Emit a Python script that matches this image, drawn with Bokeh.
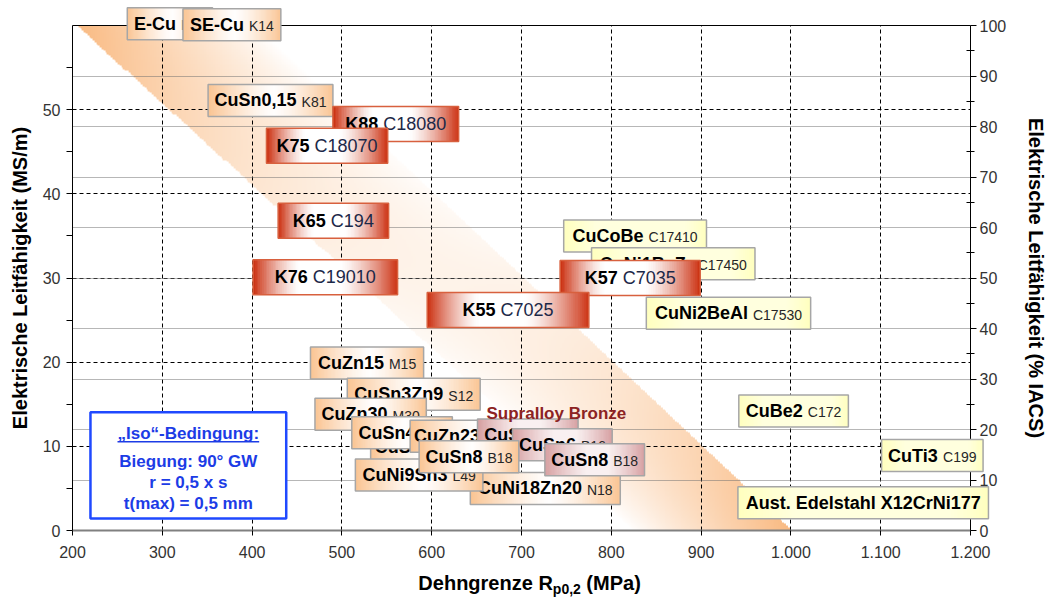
import numpy as np
from bokeh.plotting import figure
from bokeh.models import Range1d, LinearAxis, FixedTicker, Grid
from bokeh.embed import file_html
from bokeh.resources import INLINE
from bokeh.core.properties import value

# ------------------------------------------------------------------ data
X_TICKS = [200, 300, 400, 500, 600, 700, 800, 900, 1000, 1100, 1200]
X_TICK_LABELS = ["200", "300", "400", "500", "600", "700", "800", "900",
                 "1.000", "1.100", "1.200"]
Y_TICKS = [0, 10, 20, 30, 40, 50]
Y_MINOR = [5, 15, 25, 35, 45, 55]
IACS_TICKS = [0, 10, 20, 30, 40, 50, 60, 70, 80, 90, 100]
IACS_MINOR = [5, 15, 25, 35, 45, 55, 65, 75, 85, 95]
MS_PER_IACS = 0.6          # 100 % IACS drawn at 60 MS/m in this chart
X_MIN, X_MAX = 200, 1200
Y_MAX = 60

ALLOYS = ["E-Cu", "SE-Cu", "CuSn0,15", "K88", "K75", "K65", "K76",
          "CuCoBe", "CuNi1BeZr", "K57", "K55", "CuNi2BeAl",
          "CuZn15", "CuSn3Zn9", "CuZn30",
          "CuSn6", "CuNi18Zn20", "CuNi9Sn3", "CuSn4", "CuZn23Al3Co",
          "CuSn4", "CuSn6", "CuSn8", "CuSn8",
          "CuBe2", "CuTi3", "Aust. Edelstahl X12CrNi177"]
CODES = ["K10", "K14", "K81", "C18080", "C18070", "C194", "C19010",
         "C17410", "C17450", "C7035", "C7025", "C17530",
         "M15", "S12", "M30",
         "B16", "N18", "L49", "B14", "",
         "B14", "B16", "B18", "B18",
         "C172", "C199", ""]
GROUPS = ["std", "std", "std", "K", "K", "K", "K",
          "hp", "hp", "K", "K", "hp",
          "std", "std", "std",
          "std", "std", "std", "std", "std",
          "sup", "sup", "std", "sup",
          "hp", "hp", "hp"]
RP_MIN = [261, 323, 351, 490, 416, 429, 401,
          747, 778, 743, 595, 839,
          465, 506, 470,
          532, 643, 515, 511, 576,
          651, 690, 586, 726,
          942, 1101, 941]
RP_MAX = [356, 432, 490, 630, 551, 552, 562,
          906, 960, 899, 775, 1022,
          591, 654, 594,
          638, 810, 657, 623, 716,
          763, 801, 697, 837,
          1064, 1214, 1220]
SIGMA = [60.2, 60.1, 51.1, 48.3, 45.7, 36.8, 30.1,
         35.0, 31.7, 30.0, 26.2, 25.8,
         19.9, 16.2, 13.8,
         9.9, 5.0, 6.6, 11.6, 11.2,
         11.35, 10.2, 8.75, 8.4,
         14.2, 8.9, 3.3]

SUPRALLOY_TEXT = "Supralloy Bronze"
SUPRALLOY_POS = (661, 13.94)

# orange band (x of left/right edge at top (60 MS/m) and at bottom (0))
BAND_TOP_X = [204.5, 404.0]
BAND_BOTTOM_X = [823.5, 1000.0]

ISO_LINES = ["\u201eIso\u201c-Bedingung:", "Biegung: 90\u00b0 GW", "r = 0,5 x s", "t(max) = 0,5 mm"]

# ------------------------------------------------------------------ style
FONT = "Liberation Sans"
FW, FH = 898, 505
PX_X = FW / (X_MAX - X_MIN)
PX_Y = FH / Y_MAX

STYLE = {
    "std": dict(rgb=(250, 196, 146), border="#a6a6a6", h=32, floor=0.0, lf=0.55, rs=0.5,
                code_size=14, code_color="#262626"),
    "K":   dict(rgb=(203, 46, 14), border="#d8603e", h=35, floor=0.0, lf=0.32, rs=0.6,
                code_size=18, code_color="#1c2848"),
    "hp":  dict(rgb=(255, 255, 190), border="#a6a6a6", h=32, floor=0.5, lf=0.6, rs=0.6,
                code_size=14, code_color="#262626"),
    "sup": dict(rgb=(214, 158, 160), border="#a6a6a6", h=32, floor=0.15, lf=0.55, rs=0.5,
                code_size=14, code_color="#262626"),
}

BOLD_W = dict(zip("ABCDEFGHIJKLMNOPQRSTUVWXYZ",
                  [722, 722, 722, 722, 667, 611, 778, 722, 278, 556, 722, 611, 833, 722, 778, 667,
                   778, 722, 667, 611, 722, 667, 944, 667, 667, 611]))
BOLD_W.update(zip("abcdefghijklmnopqrstuvwxyz",
                  [556, 611, 556, 611, 556, 333, 611, 611, 278, 278, 556, 278, 889, 611, 611, 611,
                   611, 389, 556, 333, 611, 556, 778, 556, 556, 500]))
REG_W = dict(zip("ABCDEFGHIJKLMNOPQRSTUVWXYZ",
                 [667, 667, 722, 722, 667, 611, 778, 722, 278, 500, 667, 556, 833, 722, 778, 667,
                  778, 722, 667, 611, 722, 667, 944, 667, 667, 611]))
REG_W.update(zip("abcdefghijklmnopqrstuvwxyz",
                 [556, 556, 500, 556, 556, 278, 556, 556, 222, 222, 500, 222, 833, 556, 556, 556,
                  556, 333, 500, 278, 556, 500, 722, 500, 500, 500]))
for d in (BOLD_W, REG_W):
    for c in "0123456789":
        d[c] = 556
    d.update({" ": 278, ",": 278, ".": 278, "(": 333, ")": 333, "/": 278, "=": 584,
              "\u00b0": 400, "\u201e": 500, "\u201c": 500})
BOLD_W.update({"-": 333, ":": 333, "%": 889})
REG_W.update({"-": 333, ":": 278, "%": 889})


def text_w(s, size, bold):
    t = BOLD_W if bold else REG_W
    return sum(t.get(c, 556) for c in s) * size / 1000.0


def to_rgba(rgb, alpha):
    H, W = alpha.shape
    img = np.empty((H, W), dtype=np.uint32)
    v = img.view(dtype=np.uint8).reshape((H, W, 4))
    v[..., 0:3] = np.clip(np.round(rgb), 0, 255).astype(np.uint8)
    v[..., 3] = alpha.astype(np.uint8)
    return img


def box_gradient(st, n=80):
    t = (np.arange(n) + 0.5) / n
    left = np.clip(1 - t / st["lf"], 0, 1) ** 1.4
    right = np.clip((t - st["rs"]) / (1 - st["rs"]), 0, 1) ** 1.4
    inten = np.maximum(np.maximum(left, right), st["floor"])
    base = np.array(st["rgb"], dtype=float)
    rgb = 255 + (base - 255) * inten[:, None]
    return to_rgba(rgb[None, :, :], np.full((1, n), 255))


def label(x, y, s, size, bold=True, color="black", align="left", x_offset=0.0):
    # y = vertical centre of the capitals (data units)
    p.text(x=[x], y=[y], text=[s], x_offset=x_offset, text_align=align,
           text_baseline="alphabetic", text_font=value(FONT),
           text_font_style="bold" if bold else "normal",
           text_font_size="%gpx" % size, text_color=color, level="annotation")


# ------------------------------------------------------------------ figure
p = figure(frame_width=FW, frame_height=FH,
           x_range=Range1d(X_MIN, X_MAX), y_range=Range1d(0, Y_MAX),
           output_backend="svg", toolbar_location=None,
           min_border_left=72, min_border_right=78, min_border_top=25, min_border_bottom=73,
           background_fill_color="white", border_fill_color="white")
p.outline_line_color = None
p.extra_y_ranges = {"iacs": Range1d(0, 100)}

# grids
p.xgrid.ticker = FixedTicker(ticks=X_TICKS[1:-1])
p.ygrid.ticker = FixedTicker(ticks=Y_TICKS[1:])
for g in (p.xgrid, p.ygrid):
    g.grid_line_color = "black"
    g.grid_line_dash = "4 3"
    g.grid_line_width = 1
p.add_layout(Grid(dimension=1, ticker=FixedTicker(ticks=[v * MS_PER_IACS for v in IACS_TICKS[1:-1]]),
                  grid_line_color="#6e6e6e", grid_line_dash="1 1", grid_line_width=1))

# band
nx, ny = 400, 300
bx0 = min(BAND_TOP_X[0], BAND_BOTTOM_X[0])
bx1 = max(BAND_TOP_X[1], BAND_BOTTOM_X[1])
xs = bx0 + (np.arange(nx) + 0.5) * (bx1 - bx0) / nx
ys = (np.arange(ny) + 0.5) * Y_MAX / ny
X, Y = np.meshgrid(xs, ys)
f = Y / Y_MAX
xl = BAND_BOTTOM_X[0] + (BAND_TOP_X[0] - BAND_BOTTOM_X[0]) * f
xr = BAND_BOTTOM_X[1] + (BAND_TOP_X[1] - BAND_BOTTOM_X[1]) * f
tt = (X - xl) / (xr - xl)
ss = 1 - f
inside = (tt >= 0) & (tt <= 1)
inten = np.clip((1 - ss) ** 2.6 * (1 - tt) ** 0.9 + ss ** 2.6 * tt ** 0.9, 0, 1)
band_rgb = 255 + (np.array([249, 186, 130], float) - 255) * inten[..., None]
band = to_rgba(band_rgb, np.where(inside, 255, 0))
p.image_rgba(image=[band], x=[bx0], y=[0], dw=[bx1 - bx0], dh=[Y_MAX], level="image")

# alloy boxes
for i in range(len(ALLOYS)):
    st = STYLE[GROUPS[i]]
    x0, x1, yc = RP_MIN[i], RP_MAX[i], SIGMA[i]
    hd = st["h"] / PX_Y
    p.image_rgba(image=[box_gradient(st)], x=[x0], y=[yc - hd / 2], dw=[x1 - x0], dh=[hd],
                 level="annotation")
    p.quad(left=[x0], right=[x1], bottom=[yc - hd / 2], top=[yc + hd / 2], fill_color=None,
           line_color=st["border"], line_width=1.5, level="annotation")
    name, code = ALLOYS[i], CODES[i]
    cs = st["code_size"]
    wb = text_w(name, 18, True)
    wc = text_w(code, cs, False) if code else 0
    gap = 5 if code else 0
    W = wb + gap + wc
    cx = (x0 + x1) / 2
    label(cx, yc, name, 18, True, "black", "left", -W / 2)
    if code:
        label(cx, yc - 0.36 * (18 - cs) / PX_Y, code, cs, False, st["code_color"], "left",
              -W / 2 + wb + gap)

label(SUPRALLOY_POS[0], SUPRALLOY_POS[1], SUPRALLOY_TEXT, 17, True, "#8c2323")

# "Iso" condition box
ISO_BOX = dict(left=220, right=438, bottom=1.43, top=14.06)
p.quad(left=[ISO_BOX["left"]], right=[ISO_BOX["right"]], bottom=[ISO_BOX["bottom"]],
       top=[ISO_BOX["top"]], fill_color="white", line_color="#1f49ff", line_width=2.5,
       level="annotation")
iso_cx = (ISO_BOX["left"] + ISO_BOX["right"]) / 2
iso_centers_px = [21, 49, 70, 91]   # below box top
for line, dy in zip(ISO_LINES, iso_centers_px):
    label(iso_cx, ISO_BOX["top"] - dy / PX_Y, line, 17, True, "#1c3ce6", "center")
w0 = text_w(ISO_LINES[0], 17, True) / PX_X
yu = ISO_BOX["top"] - (21 + 8.5) / PX_Y
p.segment(x0=[iso_cx - w0 / 2], x1=[iso_cx + w0 / 2], y0=[yu], y1=[yu],
          line_color="#1c3ce6", line_width=1.5, level="annotation")

# axes
ax_b = p.xaxis[0]
ax_b.ticker = FixedTicker(ticks=X_TICKS)
ax_b.major_label_overrides = {t: l for t, l in zip(X_TICKS, X_TICK_LABELS)}
ax_b.axis_line_color = "#808080"
ax_b.axis_line_width = 2
ax_b.major_tick_out = 5
ax_b.major_tick_in = 0
ax_b.major_label_standoff = 10

ax_l = p.yaxis[0]
ax_l.ticker = FixedTicker(ticks=Y_TICKS, minor_ticks=Y_MINOR)
ax_l.axis_label = "Elektrische Leitf\u00e4higkeit (MS/m)"
ax_l.major_tick_out = 6
ax_l.major_tick_in = 0
ax_l.minor_tick_out = 6
ax_l.minor_tick_in = 0
ax_l.major_label_standoff = 6
ax_l.axis_label_standoff = 9

ax_r = LinearAxis(y_range_name="iacs", ticker=FixedTicker(ticks=IACS_TICKS, minor_ticks=IACS_MINOR),
                  axis_label="Elektrische Leitf\u00e4higkeit (% IACS)")
ax_r.major_tick_out = 6
ax_r.major_tick_in = 0
ax_r.minor_tick_out = 4
ax_r.minor_tick_in = 4
ax_r.major_label_standoff = 3
ax_r.axis_label_standoff = 16
p.add_layout(ax_r, "right")

ax_t = LinearAxis(ticker=FixedTicker(ticks=[]), major_tick_out=0, major_tick_in=0,
                  minor_tick_out=0, minor_tick_in=0, major_label_text_font_size="0px",
                  axis_line_color="black", major_label_standoff=0)
p.add_layout(ax_t, "above")

for ax in (ax_b, ax_l, ax_r):
    ax.major_label_text_font = FONT
    ax.major_label_text_font_size = "16px"
    ax.major_label_text_color = "#333333"
    ax.axis_label_text_font = FONT
    ax.axis_label_text_font_style = "bold"
    ax.axis_label_text_font_size = "20px"
    ax.axis_label_text_color = "black"
    ax.major_tick_line_color = "black"
    ax.minor_tick_line_color = "black"
for ax in (ax_l, ax_r):
    ax.axis_line_color = "black"

# x-axis title with subscript
parts = [("Dehngrenze R", 20, 0.0, 0.0), ("p0,2", 14, 6.0, 0.0), ("(MPa)", 20, 0.0, 5.5)]
total = sum(text_w(s, sz, True) + g for s, sz, _, g in parts)
title_cx = 709
title_y = -52.0 / PX_Y
off = -total / 2
for s, sz, drop, g in parts:
    off += g
    label(title_cx, title_y - drop / PX_Y, s, sz, True, "black", "left", off)
    off += text_w(s, sz, True)

open("out.html", "w").write(file_html(p, INLINE))
